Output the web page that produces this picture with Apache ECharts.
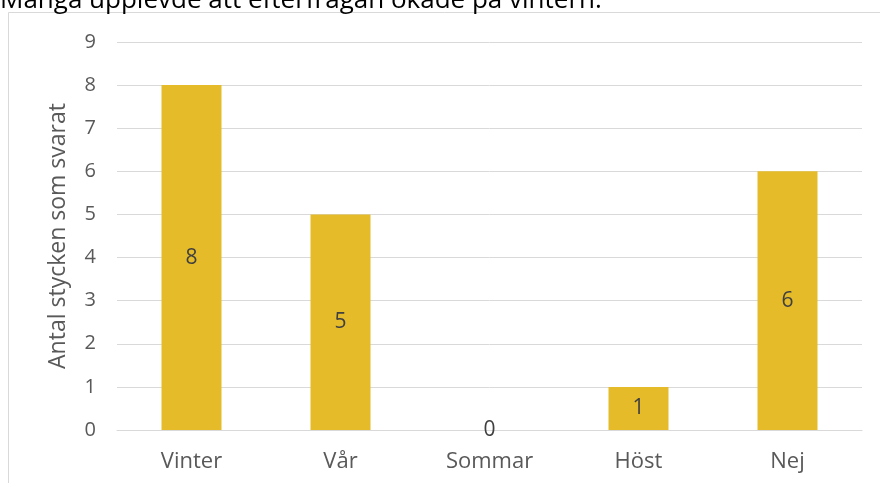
<!DOCTYPE html>
<html>
<head>
<meta charset="utf-8">
<script src="https://cdn.jsdelivr.net/npm/echarts@6/dist/echarts.min.js"></script>
<style>
  html, body { margin: 0; padding: 0; background: #fff; }
  #chart { width: 880px; height: 483px; }
</style>
</head>
<body>
<div id="chart"></div>
<script>
// säsonger och antal svar
const categories = ['Vinter', 'Vår', 'Sommar', 'Höst', 'Nej']
const answers = [8, 5, 0, 1, 6]
const titleText = 'Många upplevde att efterfrågan ökade på vintern.'
const axisName = 'Antal stycken som svarat'

const font = '"Open Sans", "Noto Sans", sans-serif'
const textColor = '#595959'
const gridColor = '#D9D9D9'

let chart = echarts.init(document.getElementById('chart'))
let option = {
    backgroundColor: '#fff',
    animation: false,
    textStyle: { fontFamily: font },
    grid: { left: 117, right: 18, top: 42, bottom: 53 },
    graphic: [
        {
            type: 'rect',
            shape: { x: 8.5, y: 12.5, width: 880, height: 500 },
            style: { fill: 'none', stroke: gridColor, lineWidth: 1 },
            silent: true
        },
        {
            type: 'text',
            x: 0,
            y: -12.5,
            style: { text: titleText, fontSize: 26, fill: '#000', fontFamily: font }
        }
    ],
    xAxis: {
        type: 'category',
        data: categories,
        axisLine: { lineStyle: { color: gridColor, width: 1 } },
        axisTick: { show: false },
        axisLabel: { color: textColor, fontSize: 22, margin: 21, fontFamily: font }
    },
    yAxis: {
        type: 'value',
        min: 0,
        max: 9,
        interval: 1,
        name: axisName,
        nameLocation: 'middle',
        nameGap: 47,
        nameTextStyle: { color: textColor, fontSize: 23, fontFamily: font },
        axisLine: { show: false },
        axisTick: { show: false },
        axisLabel: { color: textColor, fontSize: 20, margin: 21, fontFamily: font },
        splitLine: { lineStyle: { color: gridColor, width: 1 } }
    },
    series: [
        {
            type: 'bar',
            data: answers,
            barWidth: 60,
            itemStyle: { color: '#E5BB2A' },
            label: {
                show: true,
                position: 'inside',
                color: '#404040',
                fontSize: 21,
                fontFamily: font
            }
        }
    ]
}
chart.setOption(option)
</script>
</body>
</html>
